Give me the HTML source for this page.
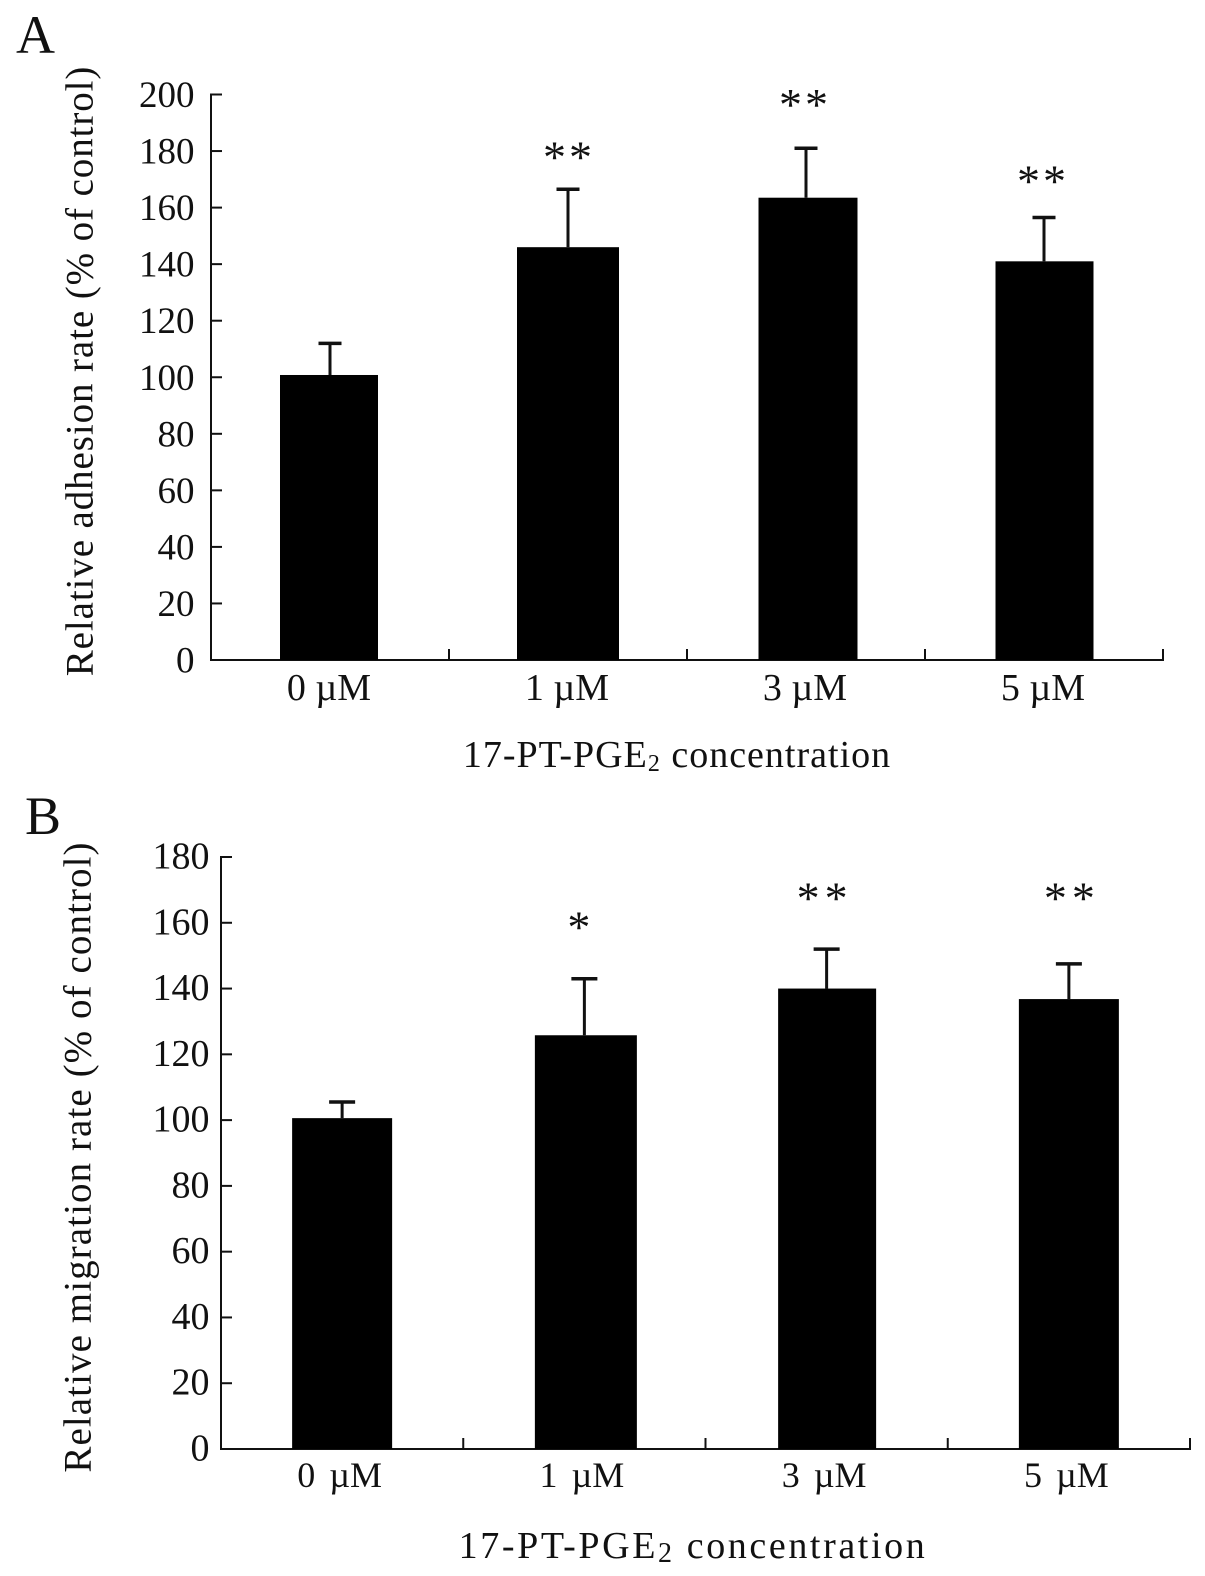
<!DOCTYPE html>
<html>
<head>
<meta charset="utf-8">
<style>
html,body{margin:0;padding:0;background:#fff;}
svg{display:block;}
text{font-family:"Liberation Serif",serif;fill:#111;}
</style>
</head>
<body>
<svg id="chart" xmlns="http://www.w3.org/2000/svg" width="1205" height="1576" viewBox="0 0 1205 1576"></svg>
<script>
const categories = ["0 µM", "1 µM", "3 µM", "5 µM"];
const adhesionValues = [100.8, 146, 163.5, 141];
const adhesionErrors = [11.2, 20.5, 17.5, 15.5];
const adhesionStars = ["", "**", "**", "**"];
const adhesionTicks = [0, 20, 40, 60, 80, 100, 120, 140, 160, 180, 200];
const migrationValues = [100.6, 125.8, 140, 136.8];
const migrationErrors = [4.9, 17.2, 12, 10.7];
const migrationStars = ["", "*", "**", "**"];
const migrationTicks = [0, 20, 40, 60, 80, 100, 120, 140, 160, 180];

const svg = document.getElementById('chart');
const NS = 'http://www.w3.org/2000/svg';
function add(tag, attrs, text) {
  const e = document.createElementNS(NS, tag);
  for (const k in attrs) e.setAttribute(k, attrs[k]);
  if (text !== undefined) e.textContent = text;
  svg.appendChild(e);
  return e;
}
function drawPanel(p, values, errors, stars, ticks) {
  const yMax = ticks[ticks.length - 1];
  const y = v => p.bottom - (v / yMax) * (p.bottom - p.top);
  const slot = (p.right - p.left) / categories.length;

  const yAxis = add('line', {x1: p.left, x2: p.left, y1: p.top - 1, y2: p.bottom + 1, stroke: '#111', 'stroke-width': 2});
  
  
  const xAxis = add('line', {x1: p.left, x2: p.right + 1, y1: p.bottom, y2: p.bottom, stroke: '#111', 'stroke-width': 2});
  
  

  ticks.forEach(t => {
    const tick = add('line', {x1: p.left, x2: p.left + 11, y1: y(t), y2: y(t), stroke: '#111', 'stroke-width': 2});
    
    
    const label = add('text', {x: p.left - p.labelGap, y: y(t) + p.labelDy, 'text-anchor': 'end', 'font-size': p.tickFont}, String(t));
    
    
  });

  for (let i = 1; i <= categories.length; i++) {
    const x = p.left + slot * i;
    const tick = add('line', {x1: x, x2: x, y1: p.bottom, y2: p.bottom - 11, stroke: '#111', 'stroke-width': 2});
    
    
  }

  categories.forEach((c, i) => {
    const cx = p.left + slot * (i + 0.5);
    const bar = add('rect', {x: cx + p.barDx[i] - p.barW[i] / 2, y: y(values[i]), width: p.barW[i], height: p.bottom - y(values[i]), fill: '#000'});
    
    

    const top = y(values[i] + errors[i]);
    const stem = add('line', {x1: cx, x2: cx, y1: y(values[i]), y2: top, stroke: '#111', 'stroke-width': 3});
    
    
    const cap = add('line', {x1: cx - p.capHalf, x2: cx + p.capHalf, y1: top, y2: top, stroke: '#111', 'stroke-width': 3.5});
    
    

    const label = add('text', {x: cx + p.catDx, y: p.bottom + p.catDy, 'text-anchor': 'middle', 'font-size': p.catFont, 'word-spacing': p.catWs}, c);
    
    

    if (stars[i]) {
      const star = add('text', {x: cx + p.starDx[i], y: top + p.starDy[i], 'text-anchor': 'middle', 'font-size': 46, 'letter-spacing': p.starLs}, stars[i]);
      
      
    }
  });

  const yTitle = add('text', {transform: 'translate(' + p.titleX + ' ' + p.titleY + ') rotate(-90)', 'text-anchor': 'middle', 'font-size': 39, 'letter-spacing': p.titleLs}, p.yTitle);
  
  

  const xTitle = add('text', {x: p.xTitleX, y: p.xTitleY, 'text-anchor': 'middle', 'font-size': 38, 'letter-spacing': p.ls});
  
  
  xTitle.appendChild(document.createTextNode('17-PT-PGE'));
  const sub = document.createElementNS(NS, 'tspan');
  sub.setAttribute('font-size', p.subFont);
  sub.setAttribute('dy', '4');
  sub.textContent = '2';
  xTitle.appendChild(sub);
  const rest = document.createElementNS(NS, 'tspan');
  rest.setAttribute('dy', '-4');
  rest.textContent = ' concentration';
  xTitle.appendChild(rest);

  const letter = add('text', {x: p.letterX, y: p.letterY, 'font-size': 54}, p.letter);
  
  
}

drawPanel({id: 'adhesion', letter: 'A', letterX: 16, letterY: 53, left: 211, right: 1163, top: 94.5, bottom: 660,
  barW: [98, 102, 99, 98], barDx: [-1, 0, 2, 0.5],
  capHalf: 11.5, labelGap: 16.5, labelDy: 12.5, tickFont: 37, catFont: 38, catWs: 0, catDx: -1, catDy: 40,
  starDx: [0, 1, -1, -1], starDy: [0, -16.5, -28, -21], starLs: 3,
  yTitle: 'Relative adhesion rate (% of control)', titleX: 92.5, titleY: 371, titleLs: 0.9,
  xTitleX: 677, xTitleY: 767, ls: 1.0, subFont: 24},
  adhesionValues, adhesionErrors, adhesionStars, adhesionTicks);
drawPanel({id: 'migration', letter: 'B', letterX: 25, letterY: 834, left: 221, right: 1190, top: 857, bottom: 1449,
  barW: [100, 102, 98, 100], barDx: [0, 1.5, 0.5, 0],
  capHalf: 13, labelGap: 11.5, labelDy: 11.5, tickFont: 38, catFont: 36, catWs: 5, catDx: -2.5, catDy: 38,
  starDx: [0, -3, -2, 3], starDy: [0, -36, -35.5, -50.5], starLs: 5,
  yTitle: 'Relative migration rate (% of control)', titleX: 90.5, titleY: 1157, titleLs: 1.08,
  xTitleX: 693, xTitleY: 1558, ls: 2.6, subFont: 28},
  migrationValues, migrationErrors, migrationStars, migrationTicks);
</script>
</body>
</html>
